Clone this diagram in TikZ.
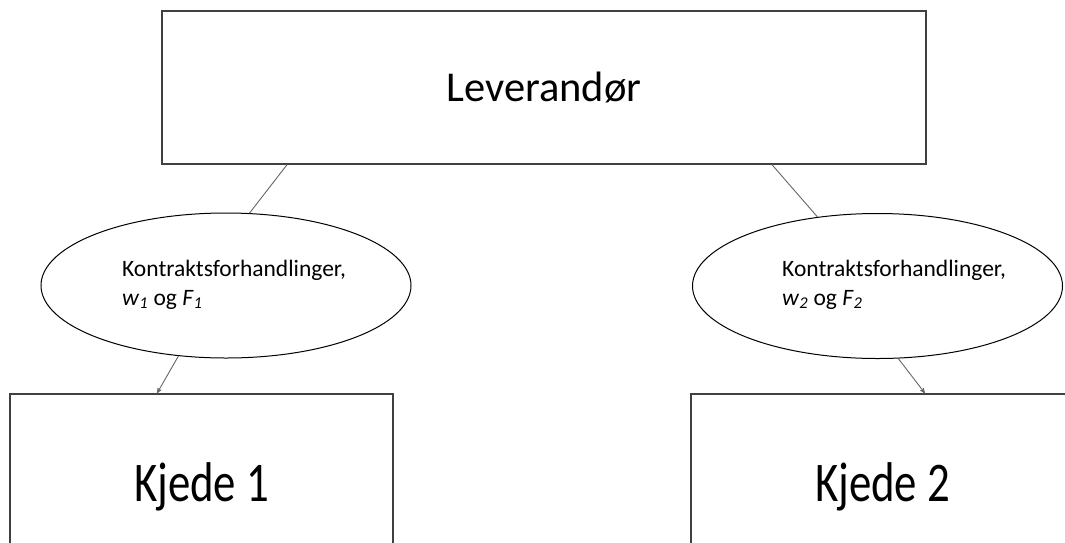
\documentclass[tikz,border=0pt]{standalone}
\usepackage{fontspec}
\setmainfont{Carlito}
\usetikzlibrary{shapes}
\usetikzlibrary{arrows}
\tikzset{
	boxnode/.style = {
		rectangle,
		draw=black!75,
		line width=1.4pt,
		inner sep=0pt,
		align=center
	},
	node_top/.style = {
		boxnode,
		minimum width=764pt,
		minimum height=153pt,
		font=\fontsize{42.5}{50}\selectfont
	},
	node_chain/.style = {
		boxnode,
		minimum width=383pt,
		minimum height=186pt,
		font=\fontsize{56}{60}\selectfont
	},
	node_deal/.style = {
		ellipse,
		draw=black,
		line width=1pt,
		inner sep=0pt,
		minimum width=370pt,
		minimum height=145pt
	},
	deal_text/.style = {
		anchor=base west,
		inner sep=0pt,
		align=left,
		font=\fontsize{23.5}{29}\selectfont
	},
	link/.style = {
		draw=black!60,
		line width=0.9pt
	}
}

\begin{document}
\begin{tikzpicture}[x=1pt,y=-1pt,>=stealth']
\useasboundingbox (0,0) rectangle (1065,542);
\clip (0,0) rectangle (1065,542);
\node [node_top] (lev) at (544,87.5) {Leverandør};
\node [node_deal] (deal1) at (226,285.5) {};
\node [node_deal] (deal2) at (877.5,286) {};
\node [deal_text] (deal1txt) at (122,305) {Kontraktsforhandlinger,\\
	\textit{w}\textsubscript{\textit{1}} og \textit{F}\textsubscript{\textit{1}}};
\node [deal_text] (deal2txt) at (782,305) {Kontraktsforhandlinger,\\
	\textit{w}\textsubscript{\textit{2}} og \textit{F}\textsubscript{\textit{2}}};
\node [node_chain] (chain1) at (201.5,487) {\scalebox{0.8}[1]{Kjede 1}};
\node [node_chain] (chain2) at (882.5,487) {\scalebox{0.8}[1]{Kjede 2}};
% leverandør til forhandlingene
\draw [link] ([xshift=-257pt]lev.south) -- (deal1.72);
\draw [link] ([xshift=228pt]lev.south) -- (deal2.131);
% forhandlingene til kjedene
\draw [link,->] (deal1.236) -- ([xshift=-44.5pt]chain1.north);
\draw [link,->] (deal2.286) -- ([xshift=42.5pt]chain2.north);
\end{tikzpicture}
\end{document}
